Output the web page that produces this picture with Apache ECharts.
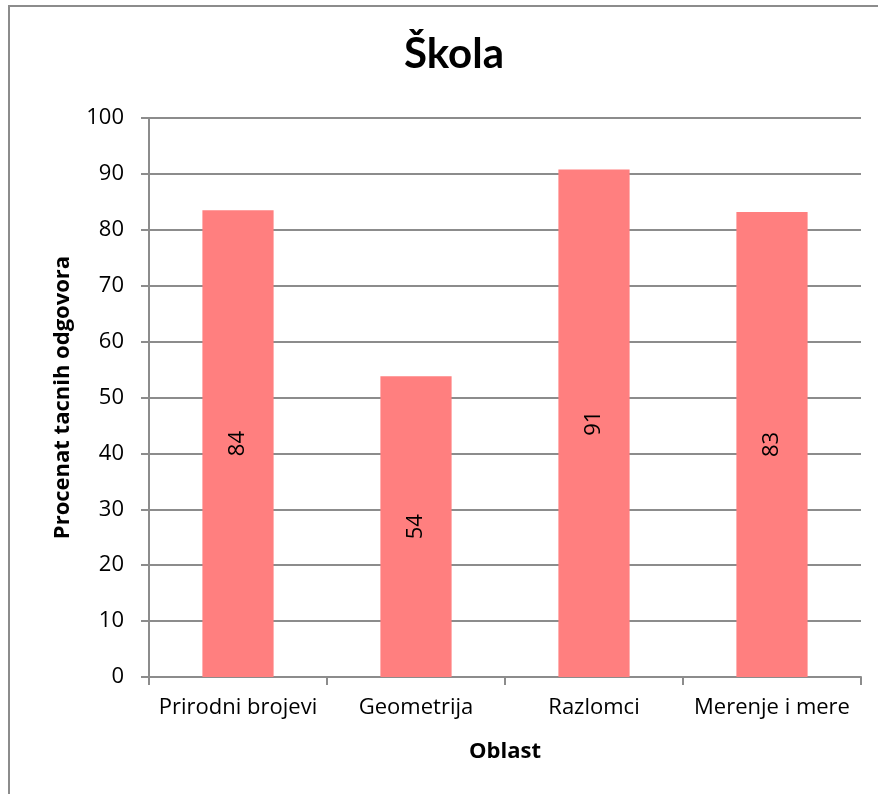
<!DOCTYPE html>
<html><head><meta charset="utf-8">
<script src="https://cdn.jsdelivr.net/npm/echarts@6/dist/echarts.min.js"></script>
<style>html,body{margin:0;padding:0;background:#fff}#c{width:878px;height:794px}</style>
</head><body><div id="c"></div>
<script>
const categories = ["Prirodni brojevi", "Geometrija", "Razlomci", "Merenje i mere"];
const values = [83.5, 53.8, 90.8, 83.2];
const yTicks = {min: 0, max: 100, interval: 10};

const chart = echarts.init(document.getElementById('c'), null, {renderer: 'canvas'});
const font = '"Open Sans", sans-serif';
chart.setOption({
  animation: false,
  backgroundColor: '#fff',
  graphic: [{type: 'rect', shape: {x: 9, y: 6, width: 1000, height: 1000}, style: {fill: 'none', stroke: '#8c8c8c', lineWidth: 2}, silent: true}],
  title: {text: 'Škola', left: 449, top: 28, textAlign: 'center',
    textStyle: {fontFamily: 'Lato, sans-serif', fontSize: 42, fontWeight: 'bold', color: '#000'}},
  grid: {left: 149, right: 17, top: 118, bottom: 117, containLabel: false},
  xAxis: {type: 'category', data: categories,
    name: 'Oblast', nameLocation: 'middle', nameGap: 64,
    nameTextStyle: {fontFamily: font, fontSize: 22, fontWeight: 'bold', color: '#000'},
    axisLine: {lineStyle: {color: '#8c8c8c', width: 2}},
    axisTick: {show: true, interval: 0, length: 8, lineStyle: {color: '#8c8c8c', width: 2}},
    axisLabel: {interval: 0, fontFamily: font, fontSize: 22, color: '#000', margin: 20}},
  yAxis: {type: 'value', min: yTicks.min, max: yTicks.max, interval: yTicks.interval,
    name: 'Procenat tacnih odgovora', nameLocation: 'middle', nameGap: 75,
    nameTextStyle: {fontFamily: font, fontSize: 22, fontWeight: 'bold', color: '#000'},
    axisLine: {show: true, lineStyle: {color: '#8c8c8c', width: 2}},
    axisTick: {show: true, length: 8, lineStyle: {color: '#8c8c8c', width: 2}},
    splitLine: {lineStyle: {color: '#8c8c8c', width: 2}},
    axisLabel: {fontFamily: font, fontSize: 22, color: '#000', margin: 25}},
  series: [{type: 'bar', data: values, barWidth: '40%',
    itemStyle: {color: '#ff7f7f'},
    label: {show: true, position: 'inside', rotate: 90, fontFamily: font, fontSize: 22, color: '#000',
      formatter: p => Math.round(p.value)}}]
});
</script></body></html>
